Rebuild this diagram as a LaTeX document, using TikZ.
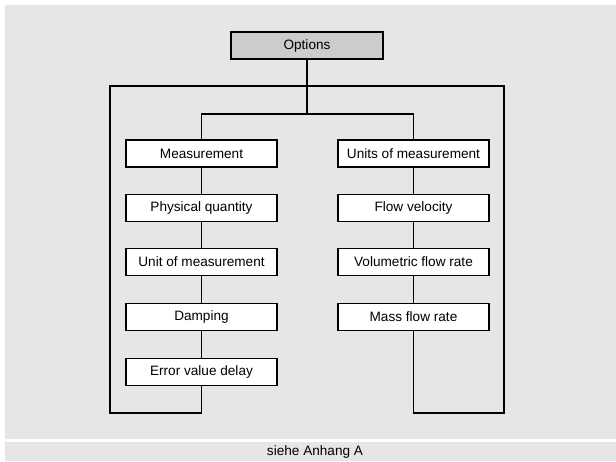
\documentclass[tikz,border=0pt]{standalone}
\usepackage{fontspec}
\setmainfont{Liberation Sans}
\definecolor{panel}{HTML}{E6E6E6}
\definecolor{headfill}{HTML}{CCCCCC}
\tikzset{
  menubox/.style={draw=black, line width=1.8pt, fill=white, minimum width=151pt,
    minimum height=27pt, inner sep=0pt, font=\fontsize{13.6}{16}\selectfont},
  link/.style={line width=1.8pt, draw=black},
}
\begin{document}
\begin{tikzpicture}[x=1pt, y=-1pt]
  % page and panels
  \fill[white] (0,0) rectangle (616,461);
  \useasboundingbox (0,0) rectangle (616,461);
  \fill[panel] (5,5) rectangle (616,439);
  \fill[panel] (5,442) rectangle (616,461);

  % head node
  \node[menubox, fill=headfill, minimum width=152pt] (opt) at (307,45.5) {Options};

  % left column
  \node[menubox] (meas) at (201.5,153.5) {Measurement};
  \node[menubox] (phys) at (201.5,208) {Physical quantity};
  \node[menubox] (unit) at (201.5,262) {Unit of measurement};
  \node[menubox] (damp) at (201.5,317) {Damping};
  \node[menubox] (err)  at (201.5,372) {Error value delay};

  % right column
  \node[menubox] (units) at (413.5,153.5) {Units of measurement};
  \node[menubox] (flow)  at (413.5,208) {Flow velocity};
  \node[menubox] (vol)   at (413.5,262) {Volumetric flow rate};
  \node[menubox] (mass)  at (413.5,317) {Mass flow rate};

  % junctions of the loop
  \coordinate (jin) at (307,114);
  \coordinate (oTL) at (110,86);
  \coordinate (oTR) at (504,86);
  \coordinate (oBL) at (110,413);
  \coordinate (oBR) at (504,413);

  % connectors
  \draw[link] (opt.south) -- (jin);
  \draw[link] (meas.north) |- (jin) -| (units.north);
  \draw[link] (err.south) |- (oBL) -- (oTL) -- (oTR) -- (oBR) -| (mass.south);
  \draw[link] (meas) -- (phys);
  \draw[link] (phys) -- (unit);
  \draw[link] (unit) -- (damp);
  \draw[link] (damp) -- (err);
  \draw[link] (units) -- (flow);
  \draw[link] (flow) -- (vol);
  \draw[link] (vol) -- (mass);

  % footer
  \node[font=\fontsize{13.6}{16}\selectfont, inner sep=0pt] (foot) at (315,451.5) {siehe Anhang A};
\end{tikzpicture}
\end{document}
